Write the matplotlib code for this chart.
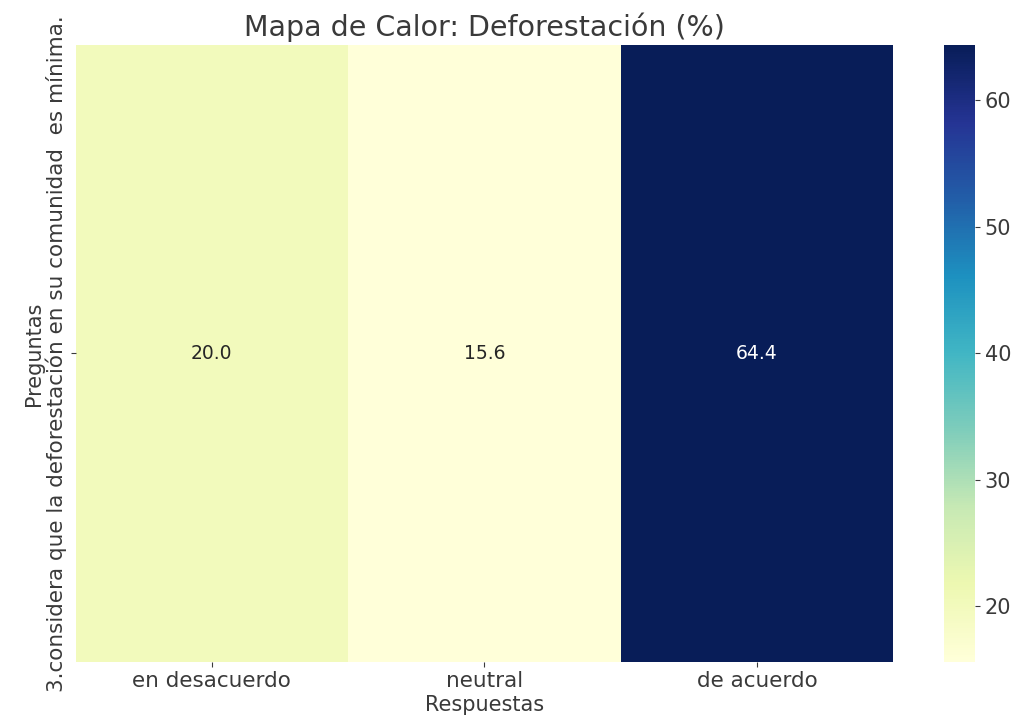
"""
Mapa de calor de respuestas sobre deforestación
"""

import numpy as np
import pandas as pd
import matplotlib
matplotlib.use('Agg')
import matplotlib.pyplot as plt
import seaborn as sns

plt.rcParams['font.family'] = ['DejaVu Sans']
plt.rcParams['text.color'] = '#3a3a3a'
plt.rcParams['axes.labelcolor'] = '#3a3a3a'
plt.rcParams['xtick.color'] = '#3a3a3a'
plt.rcParams['ytick.color'] = '#3a3a3a'

# datos
preguntas = ['3.considera que la deforestación en su comunidad  es mínima.']
respuestas = ['en desacuerdo', 'neutral', 'de acuerdo']
porcentajes = [20.0, 15.6, 64.4]

df = pd.DataFrame([porcentajes], index=preguntas, columns=respuestas)

fig = plt.figure(figsize=(10.21, 7.22), dpi=100)
ax = fig.add_axes([0.074, 0.083, 0.801, 0.855])
cax = fig.add_axes([0.925, 0.083, 0.03, 0.855])

sns.heatmap(df, annot=True, fmt='.1f', cmap='YlGnBu', ax=ax, cbar_ax=cax,
            annot_kws={'fontsize': 13.5})

ax.set_title('Mapa de Calor: Deforestación (%)', fontsize=20.5, pad=6)
ax.set_xlabel('Respuestas', fontsize=15, labelpad=3)
ax.set_ylabel('Preguntas', fontsize=15, labelpad=1)
ax.tick_params(axis='x', labelsize=15.5, pad=3)
ax.tick_params(axis='y', labelsize=15.5, pad=3)
ax.set_yticklabels(ax.get_yticklabels(), rotation=90, va='center')
cax.tick_params(labelsize=15)

fig.savefig('out.png', dpi=100)
